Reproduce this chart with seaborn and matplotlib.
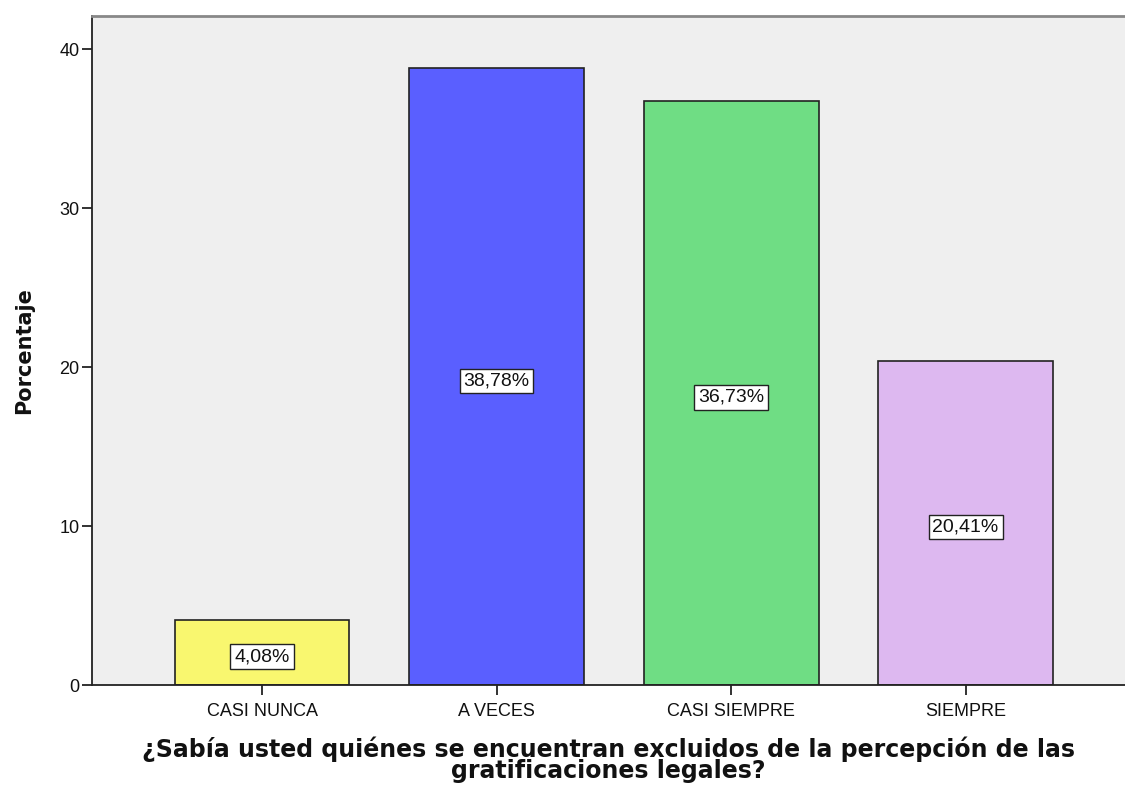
import matplotlib
matplotlib.use("Agg")
import matplotlib.pyplot as plt
import seaborn as sns
import pandas as pd

categories = ["CASI NUNCA", "A VECES", "CASI SIEMPRE", "SIEMPRE"]
values = [4.08, 38.78, 36.73, 20.41]
labels = ["4,08%", "38,78%", "36,73%", "20,41%"]
colors = ["#F9F76F", "#5A5FFF", "#6FDD84", "#DDB8F0"]
yticks = [0, 10, 20, 30, 40]

sns.set_theme(style="white")
plt.rcParams['font.family'] = ['Liberation Sans', 'DejaVu Sans']

df = pd.DataFrame({"cat": categories, "val": values})

fig = plt.figure(figsize=(11.25, 7.9), dpi=100)
ax = fig.add_axes([92/1125, 1-685/790, 1-92/1125, (685-16)/790])
ax.set_facecolor("#EFEFEF")

sns.barplot(data=df, x="cat", y="val", hue="cat", palette=colors, legend=False,
            width=0.746, edgecolor="#222222", linewidth=1.2, ax=ax, saturation=1)

for i, (v, lab) in enumerate(zip(values, labels)):
    ax.annotate(lab, xy=(i, v/2), xytext=(0, -3), textcoords="offset points",
                ha="center", va="center", fontsize=14, color="#111111",
                bbox=dict(boxstyle="square,pad=0.2", facecolor="white", edgecolor="#222222", linewidth=1))

ax.set_xlim(-0.725, 3.68)
ax.set_ylim(0, 42.08)
ax.set_yticks(yticks)
ax.set_yticklabels([str(t) for t in yticks], fontsize=13, color="#111111")
ax.tick_params(axis="x", labelsize=13, labelcolor="#111111", length=7, width=1.3, color="#222222", bottom=True, pad=6)
ax.tick_params(axis="y", length=7, width=1.3, color="#222222", left=True, pad=2)

for s in ["left", "bottom"]:
    ax.spines[s].set_color("#222222")
    ax.spines[s].set_linewidth(1.3)
ax.spines["top"].set_color("#888888")
ax.spines["top"].set_linewidth(2)
ax.spines["right"].set_visible(False)

ax.set_ylabel("Porcentaje", fontsize=15, fontweight="bold", family="DejaVu Sans", color="#111111", labelpad=18)
ax.set_xlabel("¿Sabía usted quiénes se encuentran excluidos de la percepción de las\ngratificaciones legales?",
              fontsize=17, fontweight="bold", family="DejaVu Sans", color="#111111", linespacing=0.85, labelpad=12)

fig.savefig("out.png", dpi=100)
